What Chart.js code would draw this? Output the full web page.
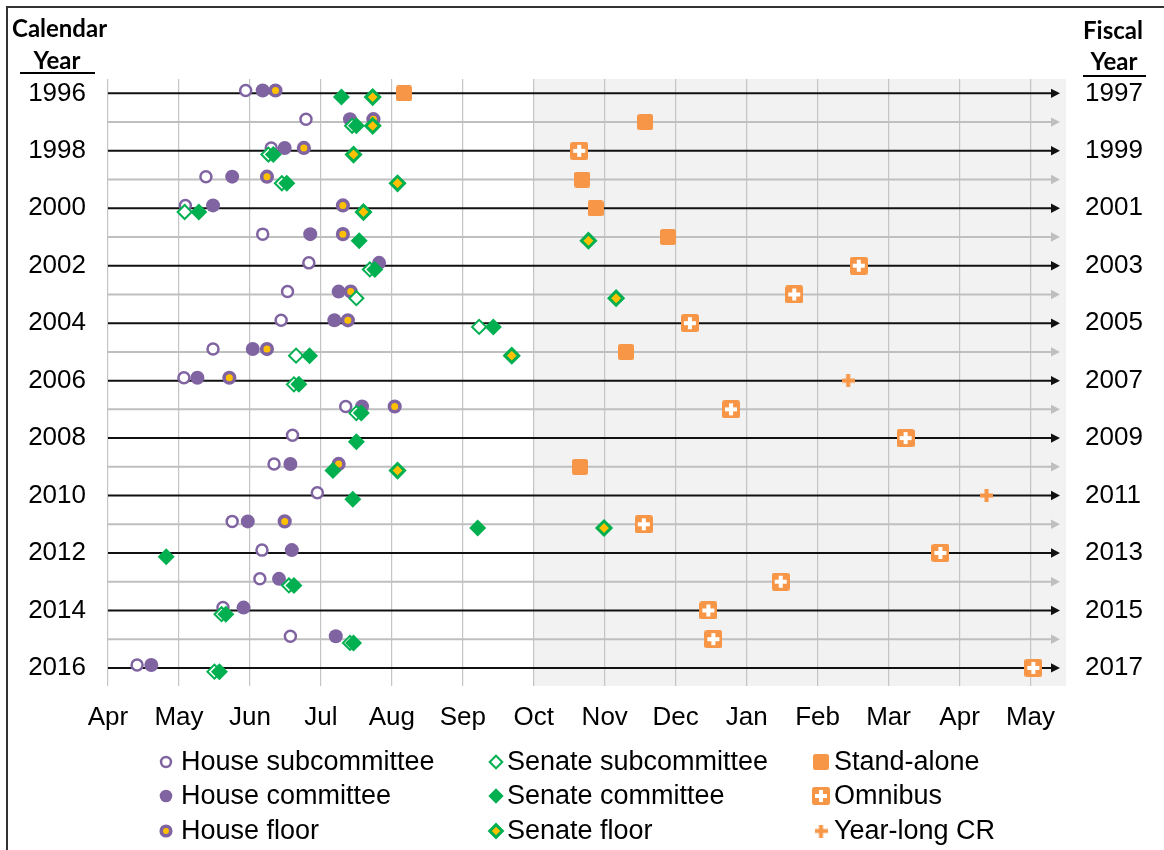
<!DOCTYPE html>
<html>
<head>
<meta charset="utf-8">
<script src="https://cdn.jsdelivr.net/npm/chart.js@4.4.0/dist/chart.umd.min.js"></script>
<style>
  html, body { margin: 0; padding: 0; background: #fff; }
  #wrap { width: 1164px; height: 850px; }
</style>
</head>
<body>
<div id="wrap"><canvas id="chart" width="1164" height="850"></canvas></div>
<script>
// x values are months since April 1 of the calendar year (0 = Apr, 6 = Oct, 13 = May next year)
const months = ['Apr', 'May', 'Jun', 'Jul', 'Aug', 'Sep', 'Oct', 'Nov', 'Dec', 'Jan', 'Feb', 'Mar', 'Apr', 'May'];
const years = [1996, 1997, 1998, 1999, 2000, 2001, 2002, 2003, 2004, 2005, 2006,
               2007, 2008, 2009, 2010, 2011, 2012, 2013, 2014, 2015, 2016];
const yearTicks = [1996, 1998, 2000, 2002, 2004, 2006, 2008, 2010, 2012, 2014, 2016];

const houseSub    = [1.94, 2.79, 2.30, 1.38, 1.09, 2.18, 2.83, 2.53, 2.44, 1.48, 1.07, 3.35, 2.60, 2.34, 2.95, 1.75, 2.17, 2.14, 1.62, 2.57, 0.41];
const houseCmte   = [2.18, 3.41, 2.49, 1.75, 1.48, 2.85, 3.82, 3.25, 3.19, 2.04, 1.26, 3.58, null, 2.57, null, 1.97, 2.59, 2.41, 1.91, 3.21, 0.61];
const houseFloor  = [2.36, 3.74, 2.76, 2.24, 3.31, 3.31, null, 3.42, 3.38, 2.24, 1.71, 4.04, null, 3.25, null, 2.49, null, null, null, null, null];
const senateSub   = [null, 3.44, 2.26, 2.45, 1.08, null, 3.69, 3.50, 5.23, 2.65, 2.62, 3.50, null, null, null, null, null, 2.55, 1.60, 3.41, 1.50];
const senateCmte  = [3.29, 3.50, 2.33, 2.52, 1.28, 3.54, 3.76, null, 5.43, 2.84, 2.69, 3.57, 3.50, 3.17, 3.45, 5.21, 0.82, 2.62, 1.66, 3.46, 1.57];
const senateFloor = [3.73, 3.73, 3.46, 4.08, 3.60, 6.77, null, 7.16, null, 5.69, null, null, null, 4.08, null, 6.99, null, null, null, null, null];
const standAlone  = [4.17, 7.57, null, 6.68, 6.87, 7.89, null, null, null, 7.30, null, null, null, 6.65, null, null, null, null, null, null, null];
const omnibus     = [null, null, 6.64, null, null, null, 10.58, 9.67, 8.20, null, null, 8.78, 11.24, null, null, 7.55, 11.73, 9.48, 8.46, 8.53, 13.04];
const yearLongCR  = [null, null, null, null, null, null, null, null, null, null, 10.43, null, null, null, 12.38, null, null, null, null, null, null];

const PURPLE = '#8064a2', GREEN = '#00b050', YELLOW = '#ffc000', ORANGE = '#f79646';
const FONT = "'Liberation Sans', Arial, sans-serif";

function makeIcon(size, draw) {
  const c = document.createElement('canvas');
  c.width = size; c.height = size;
  draw(c.getContext('2d'), size);
  return c;
}
function roundSquare(g, s, r) {
  g.fillStyle = ORANGE;
  g.beginPath();
  g.moveTo(r, 0); g.lineTo(s - r, 0); g.quadraticCurveTo(s, 0, s, r);
  g.lineTo(s, s - r); g.quadraticCurveTo(s, s, s - r, s);
  g.lineTo(r, s); g.quadraticCurveTo(0, s, 0, s - r);
  g.lineTo(0, r); g.quadraticCurveTo(0, 0, r, 0);
  g.fill();
}
const standAloneIcon = makeIcon(16, (g, s) => roundSquare(g, s, 2.5));
const omnibusIcon = makeIcon(18, (g, s) => {
  roundSquare(g, s, 2.5);
  g.fillStyle = '#fff';
  g.fillRect(7, 3, 4, 12);
  g.fillRect(3, 7, 12, 4);
});
const crIcon = makeIcon(13, (g, s) => {
  g.fillStyle = ORANGE;
  g.fillRect(4.5, 0, 4, 13);
  g.fillRect(0, 4.5, 13, 4);
});

function points(vals, dy) {
  const out = [];
  vals.forEach((v, i) => { if (v != null) out.push({ x: v, y: years[i] + dy }); });
  return out;
}

const datasets = [
  { label: 'House subcommittee', data: points(houseSub, -0.1), pointStyle: 'circle', pointRadius: 5.5,
    backgroundColor: '#fff', borderColor: PURPLE, borderWidth: 2.5, order: 8 },
  { label: 'House committee', data: points(houseCmte, -0.1), pointStyle: 'circle', pointRadius: 7,
    backgroundColor: PURPLE, borderColor: PURPLE, borderWidth: 0, order: 7 },
  { label: 'House floor', data: points(houseFloor, -0.1), pointStyle: 'circle', pointRadius: 5.3,
    backgroundColor: YELLOW, borderColor: PURPLE, borderWidth: 3.6, order: 6 },
  { label: 'Senate subcommittee', data: points(senateSub, 0.13), pointStyle: 'rectRot', pointRadius: 7,
    backgroundColor: '#fff', borderColor: GREEN, borderWidth: 2, order: 5 },
  { label: 'Senate committee', data: points(senateCmte, 0.13), pointStyle: 'rectRot', pointRadius: 8.5,
    backgroundColor: GREEN, borderColor: GREEN, borderWidth: 0, order: 4 },
  { label: 'Senate floor', data: points(senateFloor, 0.13), pointStyle: 'rectRot', pointRadius: 7,
    backgroundColor: YELLOW, borderColor: GREEN, borderWidth: 3, order: 3 },
  { label: 'Stand-alone', data: points(standAlone, 0), pointStyle: standAloneIcon, pointRadius: 8,
    backgroundColor: ORANGE, borderColor: ORANGE, borderWidth: 0, order: 2 },
  { label: 'Omnibus', data: points(omnibus, 0), pointStyle: omnibusIcon, pointRadius: 9,
    backgroundColor: ORANGE, borderColor: ORANGE, borderWidth: 0, order: 1 },
  { label: 'Year-long CR', data: points(yearLongCR, 0), pointStyle: crIcon, pointRadius: 7,
    backgroundColor: ORANGE, borderColor: ORANGE, borderWidth: 0, order: 0 }
];
datasets.forEach(d => { d.showLine = false; d.pointHoverRadius = d.pointRadius; d.clip = false; });

// legend layout: columns of dataset indexes
const legendCols = [
  { mx: 166, tx: 181, items: [0, 1, 2] },
  { mx: 496, tx: 507, items: [3, 4, 5] },
  { mx: 821, tx: 834, items: [6, 7, 8] }
];
const legendRows = [762, 796, 831];

const decor = {
  id: 'decor',
  beforeDraw(chart) {
    const ctx = chart.ctx, a = chart.chartArea, x = chart.scales.x;
    ctx.save();
    ctx.fillStyle = '#f2f2f2';
    const xo = x.getPixelForValue(6);
    ctx.fillRect(xo, a.top, a.right - xo, a.bottom - a.top);
    // frame
    ctx.strokeStyle = '#333';
    ctx.lineWidth = 2;
    ctx.beginPath();
    ctx.moveTo(7, 850); ctx.lineTo(7, 7); ctx.lineTo(1164, 7);
    ctx.stroke();
    ctx.restore();
  },
  beforeDatasetsDraw(chart) {
    const ctx = chart.ctx, a = chart.chartArea, y = chart.scales.y;
    const tip = a.right - 6;
    ctx.save();
    years.forEach((yr, i) => {
      const py = y.getPixelForValue(yr);
      const col = i % 2 === 0 ? '#111' : '#bfbfbf';
      ctx.strokeStyle = col; ctx.fillStyle = col; ctx.lineWidth = 2;
      ctx.beginPath(); ctx.moveTo(a.left, py); ctx.lineTo(tip - 8, py); ctx.stroke();
      ctx.beginPath(); ctx.moveTo(tip, py); ctx.lineTo(tip - 9, py - 4.7); ctx.lineTo(tip - 9, py + 4.7);
      ctx.closePath(); ctx.fill();
    });
    ctx.restore();
  },
  afterDraw(chart) {
    const ctx = chart.ctx;
    ctx.save();
    // headers
    ctx.fillStyle = '#000';
    ctx.font = "bold 24px Lato, 'Liberation Sans', sans-serif";
    ctx.textBaseline = 'alphabetic';
    ctx.textAlign = 'left';
    ctx.fillText('Calendar', 12, 37);
    ctx.textAlign = 'center';
    ctx.fillText('Year', 57, 69);
    ctx.fillText('Fiscal', 1113, 39);
    ctx.fillText('Year', 1114, 70);
    ctx.fillRect(20, 72, 75, 2);
    ctx.fillRect(1083, 75, 63, 2);
    // legend
    ctx.font = '27px ' + FONT;
    ctx.textAlign = 'left';
    ctx.textBaseline = 'middle';
    legendCols.forEach(col => {
      col.items.forEach((di, r) => {
        const d = datasets[di], yy = legendRows[r];
        ctx.fillStyle = d.backgroundColor;
        ctx.strokeStyle = d.borderColor;
        ctx.lineWidth = d.borderWidth;
        Chart.helpers.drawPoint(ctx, { pointStyle: d.pointStyle, radius: d.pointRadius * 0.9, rotation: 0, borderWidth: d.borderWidth }, col.mx, yy);
        ctx.fillStyle = '#000';
        ctx.fillText(d.label, col.tx, yy + 1);
      });
    });
    ctx.restore();
  }
};

const tickFont = { family: FONT, size: 26 };

new Chart(document.getElementById('chart'), {
  type: 'scatter',
  data: { datasets: datasets },
  plugins: [decor],
  options: {
    responsive: false,
    animation: false,
    events: [],
    layout: { padding: { top: 79, left: 0, right: 0, bottom: 0 } },
    plugins: { legend: { display: false }, tooltip: { enabled: false } },
    scales: {
      x: {
        type: 'linear', position: 'bottom', min: 0, max: 13.5,
        afterBuildTicks: s => { s.ticks = months.map((m, i) => ({ value: i })); },
        afterFit: s => { s.height = 164; },
        ticks: { callback: v => months[v], font: tickFont, color: '#000', padding: 16, maxRotation: 0, autoSkip: false },
        grid: { color: '#c4c4c4', lineWidth: 1.2, drawTicks: false },
        border: { display: false }
      },
      y: {
        type: 'linear', position: 'left', reverse: true, min: 1995.5, max: 2016.63,
        afterBuildTicks: s => { s.ticks = yearTicks.map(v => ({ value: v })); },
        afterFit: s => { s.width = 108; },
        ticks: { callback: v => String(v), font: tickFont, color: '#000', padding: 22 },
        grid: { display: false, drawTicks: false },
        border: { display: false }
      },
      y2: {
        type: 'linear', position: 'right', reverse: true, min: 1995.5, max: 2016.63,
        afterBuildTicks: s => { s.ticks = yearTicks.map(v => ({ value: v })); },
        afterFit: s => { s.width = 98; },
        ticks: { callback: v => String(v + 1), font: tickFont, color: '#000', padding: 19 },
        grid: { display: false, drawTicks: false },
        border: { display: false }
      }
    }
  }
});
</script>
</body>
</html>
